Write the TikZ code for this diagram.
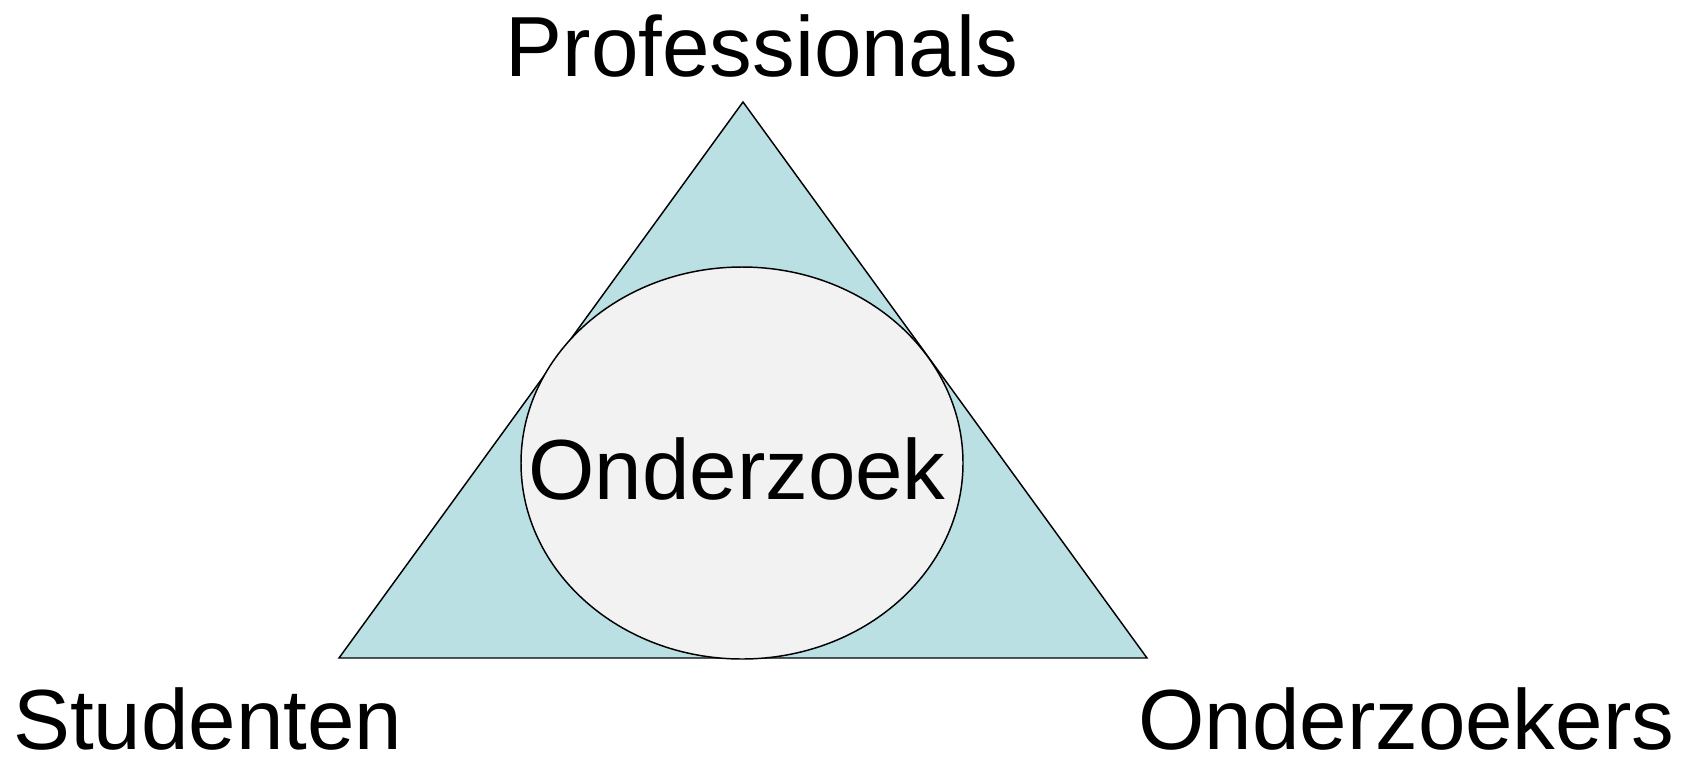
\documentclass[tikz,border=0pt]{standalone}
\usepackage{fontspec}
\setmainfont{Liberation Sans}
\usetikzlibrary{shapes.geometric}
\definecolor{tri}{HTML}{BAE0E4}
\definecolor{ell}{HTML}{F2F2F2}
\begin{document}
\begin{tikzpicture}[x=0.75pt,y=-0.75pt,
  lbl/.style={font=\fontsize{64pt}{70pt}\selectfont, inner sep=0pt, text depth=0pt},
  edge/.style={draw=black, line width=1.1pt, line join=miter}]
\useasboundingbox (0,0) rectangle (1695,758);
\coordinate (top) at (743,102);
\coordinate (bl) at (339,658);
\coordinate (br) at (1147,658);
\path[edge, fill=tri] (top) -- (br) -- (bl) -- cycle;
\node[ellipse, edge, fill=ell, minimum width=331.5pt, minimum height=294pt, inner sep=0pt] (e) at (742,463) {};
\node[lbl, anchor=base] (c) at (737,499) {Onderzoek};
\node[lbl, anchor=base] (p) at (762,76) {Professionals};
\node[lbl, anchor=base west] (s) at (13,749) {Studenten};
\node[lbl, anchor=base west] (o) at (1138,749) {Onderzoekers};
\end{tikzpicture}
\end{document}
